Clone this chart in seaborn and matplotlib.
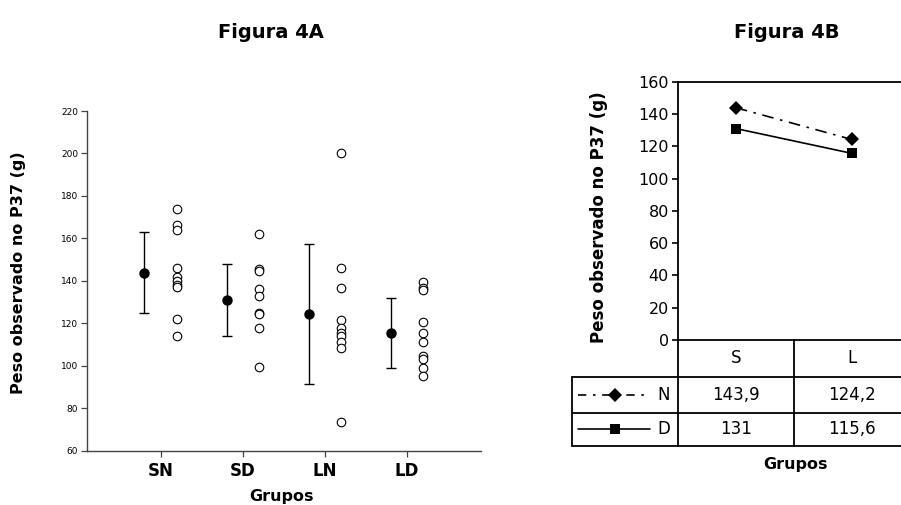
import numpy as np
import pandas as pd
import matplotlib
matplotlib.use("Agg")
import matplotlib.pyplot as plt
import matplotlib.transforms as mtransforms
import seaborn as sns

# ---- data -------------------------------------------------------------
groups = ["SN", "SD", "LN", "LD"]
weights_SN = [174, 166.5, 164, 146, 142, 140, 138, 137, 122, 114]
weights_SD = [162, 145.5, 144.5, 136, 133, 125, 124.5, 118, 99.5]
weights_LN = [200, 146, 136.5, 121.5, 118, 115.5, 114, 111, 108.5, 73.5]
weights_LD = [139.5, 136.5, 135.5, 120.5, 115.5, 111, 104.5, 103, 99, 95]
group_means = [143.9, 131, 124.2, 115.6]
group_sd = [19, 17, 33, 16.5]

litter = ["S", "L"]
series = ["N", "D"]
mean_N = [143.9, 124.2]
mean_D = [131, 115.6]
mean_N_labels = ["143,9", "124,2"]
mean_D_labels = ["131", "115,6"]

ylabel = "Peso observado no P37 (g)"
xlabel = "Grupos"

# ---- style ------------------------------------------------------------
sns.set_style("ticks")
plt.rcParams["font.family"] = ["DejaVu Sans"]
plt.rcParams["text.color"] = "black"
plt.rcParams["axes.labelcolor"] = "black"
plt.rcParams["xtick.color"] = "black"
plt.rcParams["ytick.color"] = "black"

W, H = 901, 505
fig = plt.figure(figsize=(W / 100, H / 100), dpi=100)


def fx(px):
    return px / W


def fy(py):
    return 1 - py / H


# ---- Figura 4A: individual weights with mean ± SD ----------------------
ax1 = fig.add_axes([fx(87), fy(450.7), fx(481 - 87), (450.7 - 111) / H])
all_weights = [weights_SN, weights_SD, weights_LN, weights_LD]
df = pd.DataFrame({
    "pos": np.concatenate([[i + 0.195] * len(w) for i, w in enumerate(all_weights)]),
    "peso": np.concatenate(all_weights),
})
sns.scatterplot(data=df, x="pos", y="peso", ax=ax1, marker="o", s=38,
                facecolor="white", edgecolor="black", linewidth=0.8, zorder=3)
ax1.errorbar(np.arange(len(groups)) - 0.2, group_means, yerr=group_sd,
             fmt="o", color="black", markersize=6.5, elinewidth=1.0,
             capsize=3.3, capthick=1.0, zorder=4)

ax1.set_xlim(-0.9, 3.9)
ax1.set_ylim(60, 220)
ax1.set_yticks(np.arange(60, 221, 20))
ax1.set_xticks(range(len(groups)))
ax1.set_xticklabels(groups, fontsize=12, fontweight="bold")
ax1.tick_params(axis="y", labelsize=6.5, length=4.3, width=0.9, color="#444444",
                labelcolor="black", pad=2)
ax1.tick_params(axis="x", length=4.3, width=0.9, color="#444444",
                labelcolor="black", pad=4)
ax1.set_xlabel("")
ax1.set_ylabel("")
for side in ["top", "right"]:
    ax1.spines[side].set_visible(False)
for side in ["left", "bottom"]:
    ax1.spines[side].set_color("#444444")
    ax1.spines[side].set_linewidth(1.0)

fig.text(fx(271), fy(32), "Figura 4A", ha="center", va="center",
         fontsize=14, fontweight="bold", color="black")
fig.text(fx(281), fy(496), xlabel, ha="center", va="center",
         fontsize=11.5, fontweight="bold", color="black")
fig.text(fx(19), fy(273), ylabel, ha="center", va="center", rotation=90,
         fontsize=11.5, fontweight="bold", color="black")

# ---- Figura 4B: group means by litter size -----------------------------
ax2 = fig.add_axes([fx(677.7), fy(340), fx(910 - 677.7), (340 - 81.7) / H])
dfN = pd.DataFrame({"x": [0, 1], "peso": mean_N})
dfD = pd.DataFrame({"x": [0, 1], "peso": mean_D})
sns.lineplot(data=dfN, x="x", y="peso", ax=ax2, color="black", linewidth=1.2,
             marker="D", markersize=7.5, markeredgewidth=0,
             linestyle=(0, (7, 4, 1.5, 4)))
sns.lineplot(data=dfD, x="x", y="peso", ax=ax2, color="black", linewidth=1.2,
             marker="s", markersize=7.5, markeredgewidth=0)

ax2.set_xlim(-0.5, 1.5)
ax2.set_ylim(0, 160)
ax2.set_yticks(np.arange(0, 161, 20))
ax2.set_xticks([])
ax2.set_xlabel("")
ax2.set_ylabel("")
ax2.tick_params(axis="y", labelsize=11.5, length=4.3, width=1.2, pad=2,
                color="black", labelcolor="black")
ax2.spines["right"].set_visible(False)
for side in ["left", "top", "bottom"]:
    ax2.spines[side].set_color("black")
    ax2.spines[side].set_linewidth(1.3)

# data table under the x axis
tr = mtransforms.blended_transform_factory(ax2.transData, ax2.transAxes)
ax_h = 340 - 81.7


def ay(py):
    return -(py - 340) / ax_h


x_leg = -0.5 - (678 - 572.7) / 116
x_end = 1.6
rows_y = [ay(376.7), ay(412.7), ay(445.7)]
line_kw = dict(color="black", linewidth=1.3, transform=tr, clip_on=False)
for yy in rows_y:
    ax2.plot([x_leg, x_end], [yy, yy], **line_kw)
ax2.plot([x_leg, x_leg], [rows_y[0], rows_y[-1]], **line_kw)
ax2.plot([-0.5, -0.5], [0, rows_y[-1]], **line_kw)
ax2.plot([0.5, 0.5], [0, rows_y[-1]], **line_kw)

y_head = ay((340 + 376.7) / 2)
y_N = ay((376.7 + 412.7) / 2)
y_D = ay((412.7 + 445.7) / 2)
for i, lab in enumerate(litter):
    ax2.text(i, y_head, lab, transform=tr, ha="center", va="center", fontsize=12)
    ax2.text(i, y_N, mean_N_labels[i], transform=tr, ha="center", va="center", fontsize=12)
    ax2.text(i, y_D, mean_D_labels[i], transform=tr, ha="center", va="center", fontsize=12)

# legend glyphs in the table's first column
gx0 = -0.5 - (678 - 578) / 116
gx1 = -0.5 - (678 - 650.7) / 116
gmid = -0.5 - (678 - 615) / 116
glab = -0.5 - (678 - 664) / 116
ax2.plot([gx0, gx1], [y_N, y_N], color="black", linewidth=1.2,
         linestyle=(0, (5, 4, 1.5, 4)), transform=tr, clip_on=False)
ax2.plot([gmid], [y_N], marker="D", color="black", markersize=7, markeredgewidth=0,
         transform=tr, clip_on=False)
ax2.plot([gx0, gx1], [y_D, y_D], color="black", linewidth=1.2,
         transform=tr, clip_on=False)
ax2.plot([gmid], [y_D], marker="s", color="black", markersize=7, markeredgewidth=0,
         transform=tr, clip_on=False)
ax2.text(glab, y_N, series[0], transform=tr, ha="center", va="center", fontsize=12)
ax2.text(glab, y_D, series[1], transform=tr, ha="center", va="center", fontsize=12)

fig.text(fx(787), fy(32), "Figura 4B", ha="center", va="center",
         fontsize=14, fontweight="bold", color="black")
fig.text(fx(795), fy(465), xlabel, ha="center", va="center",
         fontsize=11.5, fontweight="bold", color="black")
fig.text(fx(599), fy(217), ylabel, ha="center", va="center", rotation=90,
         fontsize=12, fontweight="bold", color="black")

fig.savefig("out.png", dpi=100)
